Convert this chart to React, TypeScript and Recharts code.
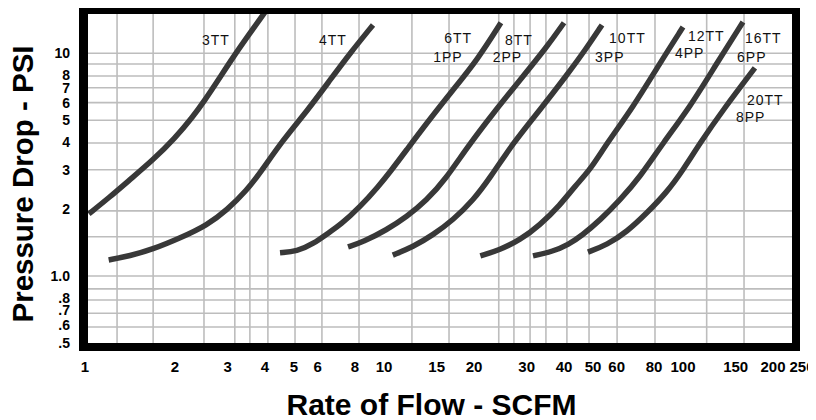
import React from 'react';
import { LineChart, Line, XAxis, YAxis, CartesianGrid, ReferenceDot } from 'recharts';

const FONT = '"Liberation Sans", Arial, Helvetica, sans-serif';

// Tick labels
const xTicks = [1, 2, 3, 4, 5, 6, 8, 10, 15, 20, 30, 40, 50, 60, 80, 100, 150, 200, 250];
const yTicks = [0.5, 0.6, 0.7, 0.8, 1, 2, 3, 4, 5, 6, 7, 8, 10];
const yTickLabels = ['.5', '.6', '.7', '.8', '1.0', '2', '3', '4', '5', '6', '7', '8', '10'];

// Grid lines (as drawn on the original sheet)
const xGrid = [1.28, 1.69, 2.5, 3.17, 3.56, 4.09, 5.04, 6.2, 8.25, 12.4, 16.5, 24.2, 27.2, 30.8, 34.8, 40.9, 48.5, 60.2, 80.6, 120, 160];
const yGrid = [0.59, 0.68, 0.78, 0.875, 1, 1.5, 1.96, 3, 3.95, 5, 6, 7, 7.9, 8.95, 10];

const xDomain = [1.0234, 231.5];
const yDomain = [0.5, 15];

// Series (SCFM, PSI)
const tt3X = [1.03, 1.21, 1.41, 1.69, 2.0, 2.28, 2.52, 2.79, 3.13, 3.56, 4.0];
const tt3Y = [1.9, 2.26, 2.7, 3.32, 4.16, 5.12, 6.17, 7.58, 9.62, 12.3, 15.3];

const tt4X = [1.2, 1.41, 1.69, 2.08, 2.56, 2.99, 3.48, 3.85, 4.59, 5.53, 6.6, 7.7, 9.19];
const tt4Y = [1.18, 1.23, 1.32, 1.48, 1.69, 1.98, 2.43, 2.9, 4.08, 5.5, 7.58, 10.0, 13.4];

const tt6X = [4.49, 5.12, 5.79, 6.6, 7.13, 8.31, 9.55, 10.6, 11.9, 13.9, 17.0, 20.5, 24.6];
const tt6Y = [1.27, 1.29, 1.39, 1.58, 1.69, 2.04, 2.51, 2.99, 3.68, 4.86, 6.84, 9.32, 13.7];

const tt8X = [7.58, 8.51, 10.2, 11.9, 13.9, 16.0, 19.0, 23.2, 28.5, 35.1, 40.0];
const tt8Y = [1.35, 1.42, 1.61, 1.84, 2.19, 2.7, 3.79, 5.39, 7.58, 10.7, 13.7];

const tt10X = [10.7, 12.5, 14.6, 17.0, 19.9, 22.6, 27.0, 33.2, 40.9, 47.0, 53.6];
const tt10Y = [1.24, 1.35, 1.53, 1.78, 2.19, 2.75, 3.95, 5.56, 7.98, 10.3, 13.4];

const tt12X = [21.0, 24.4, 28.5, 33.2, 38.8, 43.5, 48.9, 55.7, 68.1, 83.8, 100];
const tt12Y = [1.23, 1.31, 1.45, 1.69, 2.08, 2.53, 2.99, 3.95, 5.73, 9.04, 13.1];

const tt16X = [31.5, 36.8, 41.25, 45.95, 52.8, 61.5, 71.8, 85.7, 105.5, 129.9, 158.7];
const tt16Y = [1.23, 1.29, 1.38, 1.52, 1.78, 2.19, 2.78, 3.95, 5.73, 9.04, 13.8];

const tt20X = [48.1, 55.7, 65.0, 75.8, 88.4, 100, 114, 136, 174];
const tt20Y = [1.28, 1.38, 1.58, 1.92, 2.38, 2.99, 3.95, 5.56, 8.59];

// Curve labels
const labelTexts = ['3TT', '4TT', '6TT', '1PP', '8TT', '2PP', '10TT', '3PP', '12TT', '4PP', '16TT', '6PP', '20TT', '8PP'];
const labelX = [2.46, 6.06, 15.9, 14.6, 25.4, 23.1, 56.6, 50.8, 103.9, 94.0, 161.2, 151.6, 163.7, 150.4];
const labelY = [10.9, 10.9, 11.1, 9.16, 10.9, 9.16, 11.1, 9.16, 11.3, 9.52, 11.1, 9.16, 5.85, 4.93];

const seriesX = [tt3X, tt4X, tt6X, tt8X, tt10X, tt12X, tt16X, tt20X];
const seriesY = [tt3Y, tt4Y, tt6Y, tt8Y, tt10Y, tt12Y, tt16Y, tt20Y];
const seriesNames = ['3TT', '4TT', '6TT/1PP', '8TT/2PP', '10TT/3PP', '12TT/4PP', '16TT/6PP', '20TT/8PP'];

const series = seriesX.map((xs, i) => xs.map((x, j) => ({ x, y: seriesY[i][j] })));

const CURVE = '#383838';

export default function App() {
  return (
    <div style={{ position: 'relative', width: 808, height: 412 }}>
      <style>
        {'html,body{overflow:hidden !important}' +
          '.recharts-surface{overflow:visible !important}' +
          '.recharts-wrapper{overflow:visible !important}'}
      </style>
      <LineChart
        width={808}
        height={412}
        margin={{ top: 6, right: 24, left: 0, bottom: 0 }}
        style={{ overflow: 'visible' }}
      >
        <CartesianGrid
          xAxisId="main"
          yAxisId="main"
          verticalValues={xGrid}
          horizontalValues={yGrid}
          stroke="#bdbdbd"
          strokeWidth={1.6}
        />
        <XAxis
          xAxisId="main"
          dataKey="x"
          type="number"
          scale="log"
          domain={xDomain}
          allowDataOverflow
          ticks={xTicks}
          interval={0}
          height={77}
          axisLine={false}
          tickLine={false}
          tickSize={0}
          tickMargin={18}
          tick={{ fontSize: 15, fontWeight: 700, fill: '#000', fontFamily: FONT }}
          label={(props: any) => (
            <text
              x={423.5}
              y={407}
              textAnchor="middle"
              fontSize={30}
              fontWeight={700}
              fill="#000"
              fontFamily={FONT}
            >
              Rate of Flow - SCFM
            </text>
          )}
        />
        <YAxis
          yAxisId="main"
          dataKey="y"
          type="number"
          scale="log"
          domain={yDomain}
          allowDataOverflow
          ticks={yTicks}
          interval={0}
          width={80}
          axisLine={false}
          tickLine={false}
          tickSize={0}
          tickMargin={18}
          tickFormatter={(v: number) => yTickLabels[yTicks.indexOf(v)]}
          tick={{ fontSize: 14, fontWeight: 700, fill: '#000', fontFamily: FONT }}
          label={(props: any) => (
            <text
              x={24.5}
              y={176}
              transform="rotate(-90, 24.5, 176)"
              textAnchor="middle"
              fontSize={29.5}
              fontWeight={700}
              fill="#000"
              fontFamily={FONT}
            >
              Pressure Drop - PSI
            </text>
          )}
        />
        {series.map((data, i) => (
          <Line
            key={seriesNames[i]}
            name={seriesNames[i]}
            xAxisId="main"
            yAxisId="main"
            data={data}
            dataKey="y"
            type="basis"
            stroke={CURVE}
            strokeWidth={5.5}
            dot={false}
            activeDot={false}
            isAnimationActive={false}
          />
        ))}
        {labelTexts.map((t, i) => (
          <ReferenceDot
            key={t}
            xAxisId="main"
            yAxisId="main"
            x={labelX[i]}
            y={labelY[i]}
            r={0}
            fill="none"
            stroke="none"
            ifOverflow="visible"
            label={(p: any) => (
              <text
                x={p.viewBox.x}
                y={p.viewBox.y}
                fontSize={14}
                letterSpacing={1}
                fill="#111"
                fontFamily={FONT}
              >
                {t}
              </text>
            )}
          />
        ))}
      </LineChart>
      <div
        style={{
          position: 'absolute',
          left: 71,
          top: -3,
          width: 721,
          height: 346,
          borderStyle: 'solid',
          borderColor: '#000',
          borderWidth: '9px 8px 8px 9px',
          boxSizing: 'border-box',
          pointerEvents: 'none',
        }}
      />
    </div>
  );
}
